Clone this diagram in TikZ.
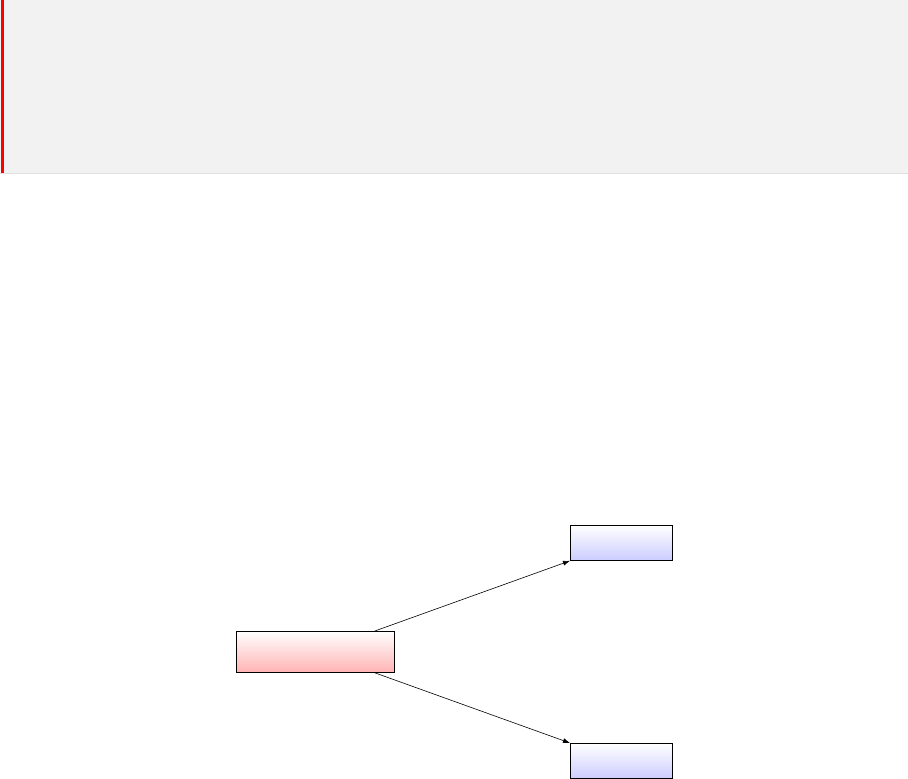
\documentclass[tikz,border=0pt]{standalone}
\usetikzlibrary{calc,arrows.meta}
\definecolor{panelgray}{HTML}{F2F2F2}
\definecolor{panelline}{HTML}{E0E0E0}
\definecolor{barred}{HTML}{FF0000}
\definecolor{pinkend}{HTML}{FFB3B3}
\definecolor{blueend}{HTML}{CCCCFF}
\begin{document}
\begin{tikzpicture}[x=1pt,y=-1pt,
  box/.style={draw=black,line width=0.8pt,anchor=north west,inner sep=0pt,minimum height=0pt},
  redbox/.style={box,top color=white,bottom color=pinkend,minimum width=158pt,minimum height=41pt},
  bluebox/.style={box,top color=white,bottom color=blueend,minimum width=102pt,minimum height=35pt},
  conn/.style={draw=black,line width=0.6pt,-{Latex[length=7pt,width=5pt]}}]
\useasboundingbox (0,0) rectangle (908,779);
\fill[white] (0,0) rectangle (908,779);
\fill[panelgray] (0,0) rectangle (908,173);
\draw[panelline,line width=1pt] (0,173.5) -- (908,173.5);
\fill[barred] (0.5,0) rectangle (3.5,173);
\node[redbox] (src) at (236,631) {};
\node[bluebox] (dsta) at (570,525) {};
\node[bluebox] (dstb) at (570,743) {};
\coordinate (srctop) at ($(src.north east)+(-20,0)$);
\coordinate (srcbot) at ($(src.south east)+(-20,0)$);
\draw[conn] (srctop) -- (dsta.south west);
\draw[conn] (srcbot) -- (dstb.north west);
\end{tikzpicture}
\end{document}
